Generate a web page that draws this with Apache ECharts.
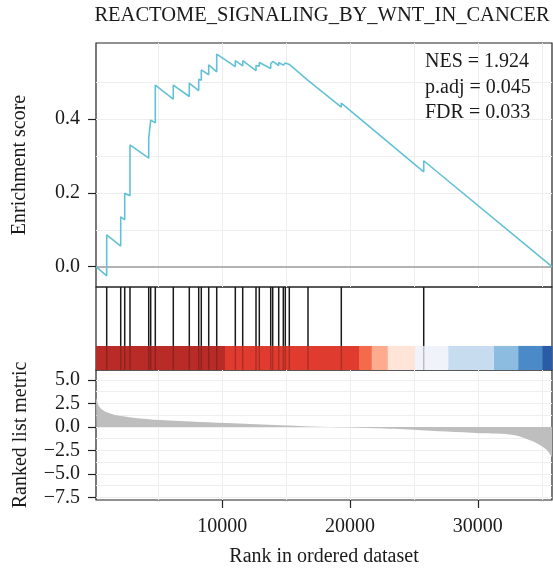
<!DOCTYPE html>
<html><head><meta charset="utf-8">
<script src="https://cdn.jsdelivr.net/npm/echarts@6/dist/echarts.min.js"></script>
<style>html,body{margin:0;padding:0;background:#fff}#c{width:553px;height:576px}</style>
</head><body><div id="c"></div>
<script>
// ---------------- data ----------------
const chartTitle = 'REACTOME_SIGNALING_BY_WNT_IN_CANCER';
const statLines = ['NES = 1.924', 'p.adj = 0.045', 'FDR = 0.033'];
const esAxisName = 'Enrichment score';
const metricAxisName = 'Ranked list metric';
const rankAxisName = 'Rank in ordered dataset';

const esTicks = [0.0, 0.2, 0.4];
const metricTicks = [-7.5, -5.0, -2.5, 0.0, 2.5, 5.0];
const rankTicks = [10000, 20000, 30000];

const esGridMajor = [0.2, 0.4];
const esGridMinor = [0.1, 0.3, 0.5];
const metricGridMajor = [-7.5, -5.0, -2.5, 0.0, 2.5, 5.0];
const metricGridMinor = [-6.25, -3.75, -1.25, 1.25, 3.75];
const rankGridMajor = [10000, 20000, 30000];
const rankGridMinor = [5000, 15000, 25000, 35000];

const hitRanks = [957, 2053, 2366, 2780, 4244, 4400, 4760, 6168, 7420, 8156, 8359, 8939, 9565,
  11020, 11599, 12640, 12898, 13790, 13946, 14416, 14776, 14932, 15245, 16708, 19314, 25762];

const esCurve = [
  [120, 0.0],
  [957, -0.025], [957, 0.086],
  [2053, 0.056], [2053, 0.135],
  [2366, 0.127], [2366, 0.199],
  [2780, 0.192], [2780, 0.330],
  [4244, 0.294], [4244, 0.348],
  [4400, 0.345], [4400, 0.397],
  [4760, 0.390], [4760, 0.492],
  [6168, 0.454], [6168, 0.492],
  [7420, 0.461], [7420, 0.497],
  [8156, 0.477], [8156, 0.508],
  [8359, 0.505], [8359, 0.533],
  [8939, 0.520], [8939, 0.547],
  [9565, 0.528], [9565, 0.576],
  [11020, 0.542], [11020, 0.558],
  [11599, 0.544], [11599, 0.558],
  [12640, 0.531], [12640, 0.545],
  [12898, 0.543], [12898, 0.553],
  [13790, 0.537], [13790, 0.550],
  [13946, 0.548], [13946, 0.556],
  [14416, 0.545], [14416, 0.553],
  [14776, 0.546], [14776, 0.551],
  [14932, 0.549], [14932, 0.552],
  [15245, 0.548], [15245, 0.551],
  [16708, 0.505], [16708, 0.510],
  [19314, 0.432], [19314, 0.443],
  [25762, 0.257], [25762, 0.287],
  [35800, 0.0]
];

const metricCurve = [
  [120, 3.10], [175, 2.94], [300, 2.33], [566, 1.87], [957, 1.55], [1740, 1.23],
  [3039, 0.98], [5128, 0.73], [8258, 0.52], [10864, 0.38], [14518, 0.17],
  [17000, 0.05], [19740, -0.05], [22000, -0.15], [24950, -0.30], [27560, -0.50],
  [30167, -0.68], [32773, -0.86], [34338, -1.57], [35385, -2.46], [35776, -3.17], [35800, -3.25]
];

const binEdges = [120, 10214, 20723, 21693, 22945, 25081, 27686, 31263, 33164, 35042, 35800];
const binPalette = ['#B92B27', '#E03B2F', '#F46B4C', '#FCAB8F', '#FEE5D8',
                    '#F1F3FA', '#C8DCEF', '#8CBDE0', '#4B8AC8', '#2A5BA6'];

// ---------------- layout / style ----------------
const FONT = 'Liberation Serif';
const FS = 20;
const TXT = '#1a1a1a';
const BORDER = '#222';
const RANK_MIN = 120, RANK_MAX = 35800;
const BAR_TOP = 0.29; // fraction of middle panel used by the colour bar

const fmt = v => {
  const s = (Math.abs(v) < 1e-9 ? 0 : v).toFixed(1);
  return s.replace('-', '\u2212');
};

function gridLines(xs, ys, color) {
  return [].concat(
    xs.map(v => ({ xAxis: v, lineStyle: { color: color, width: 1, type: 'solid' } })),
    ys.map(v => ({ yAxis: v, lineStyle: { color: color, width: 1, type: 'solid' } }))
  );
}

function gridSeries(idx, xs, ys, color) {
  return {
    type: 'line', xAxisIndex: idx, yAxisIndex: idx, data: [], silent: true, z: 0,
    markLine: { silent: true, z: 0, symbol: ['none', 'none'], label: { show: false },
      animation: false, data: gridLines(xs, ys, color) }
  };
}

const baseX = (idx) => ({
  type: 'value', gridIndex: idx, min: RANK_MIN, max: RANK_MAX, position: 'bottom',
  axisLine: { show: false, onZero: false }, axisTick: { show: false }, axisLabel: { show: false },
  splitLine: { show: false }
});

const chart = echarts.init(document.getElementById('c'), null, { renderer: 'canvas' });
chart.setOption({
  animation: false,
  backgroundColor: '#fff',
  textStyle: { fontFamily: FONT },
  grid: [
    { left: 96, right: 1, top: 43, height: 244, show: true, backgroundColor: 'transparent',
      borderColor: BORDER, borderWidth: 1.2, outerBoundsMode: 'none', z: -1 },
    { left: 96, right: 1, top: 287, height: 83, show: true, backgroundColor: 'transparent',
      borderColor: BORDER, borderWidth: 1.2, outerBoundsMode: 'none', z: -1 },
    { left: 96, right: 1, top: 370, height: 130, show: true, backgroundColor: 'transparent',
      borderColor: BORDER, borderWidth: 1.2, outerBoundsMode: 'none', z: -1 }
  ],
  xAxis: [
    baseX(0),
    baseX(1),
    Object.assign(baseX(2), {
      name: rankAxisName, nameLocation: 'middle', nameGap: 47,
      nameTextStyle: { fontFamily: FONT, fontSize: FS, color: TXT },
      axisTick: { show: true, length: 8, customValues: rankTicks, lineStyle: { color: BORDER, width: 1.2 } },
      axisLabel: { show: true, customValues: rankTicks, margin: 17, fontFamily: FONT, fontSize: FS, color: TXT,
        formatter: v => String(v) }
    })
  ],
  yAxis: [
    { type: 'value', gridIndex: 0, min: -0.055, max: 0.606, position: 'left',
      name: esAxisName, nameLocation: 'middle', nameGap: 66,
      nameTextStyle: { fontFamily: FONT, fontSize: FS, color: TXT },
      axisLine: { show: false, onZero: false }, splitLine: { show: false },
      axisTick: { show: true, length: 8, customValues: esTicks, lineStyle: { color: BORDER, width: 1.2 } },
      axisLabel: { show: true, customValues: esTicks, margin: 16, fontFamily: FONT, fontSize: FS, color: TXT, formatter: fmt } },
    { type: 'value', gridIndex: 1, min: 0, max: 1, position: 'left',
      axisLine: { show: false, onZero: false }, axisTick: { show: false }, axisLabel: { show: false }, splitLine: { show: false } },
    { type: 'value', gridIndex: 2, min: -7.79, max: 6.06, position: 'left',
      name: metricAxisName, nameLocation: 'middle', nameGap: 65,
      nameTextStyle: { fontFamily: FONT, fontSize: FS, color: TXT },
      axisLine: { show: false, onZero: false }, splitLine: { show: false },
      axisTick: { show: true, length: 8, customValues: metricTicks, lineStyle: { color: BORDER, width: 1.2 } },
      axisLabel: { show: true, customValues: metricTicks, margin: 16, fontFamily: FONT, fontSize: FS, color: TXT, formatter: fmt } }
  ],
  graphic: [
    { type: 'text', x: 322, y: 5, z: 10,
      style: { text: chartTitle, fontFamily: FONT, fontSize: 20.5, fill: TXT, align: 'center' } },
    { type: 'text', x: 425, y: 49, z: 10,
      style: { text: statLines.join('\n'), fontFamily: FONT, fontSize: FS, lineHeight: 25.5, fill: TXT } }
  ],
  series: [
    gridSeries(0, rankGridMinor.concat(rankGridMajor), esGridMinor.concat(esGridMajor), '#EEEEEE'),
    {
      type: 'line', xAxisIndex: 0, yAxisIndex: 0, data: [], silent: true, z: 1,
      markLine: { silent: true, z: 1, symbol: ['none', 'none'], label: { show: false },
        data: [{ yAxis: 0, lineStyle: { color: '#9a9a9a', width: 1.6, type: 'solid' } }] }
    },
    {
      type: 'line', xAxisIndex: 0, yAxisIndex: 0, data: esCurve, showSymbol: false, z: 3,
      lineStyle: { color: '#63C1D6', width: 1.6 }, silent: true
    },
    gridSeries(2, rankGridMinor.concat(rankGridMajor), metricGridMinor.concat(metricGridMajor), '#EEEEEE'),
    {
      type: 'line', xAxisIndex: 2, yAxisIndex: 2, data: metricCurve, showSymbol: false, z: 3,
      lineStyle: { width: 0 }, areaStyle: { color: '#BEBEBE', opacity: 1 }, silent: true, smooth: 0.3
    },
    {
      type: 'custom', xAxisIndex: 1, yAxisIndex: 1, z: 2, silent: true,
      data: binEdges.slice(0, -1).map((s, i) => [s, binEdges[i + 1], i]),
      renderItem: (params, api) => {
        const p0 = api.coord([api.value(0), BAR_TOP]);
        const p1 = api.coord([api.value(1), 0]);
        return { type: 'rect', shape: { x: p0[0], y: p0[1], width: p1[0] - p0[0] + 0.5, height: p1[1] - p0[1] },
          style: { fill: binPalette[api.value(2)] } };
      }
    },
    {
      type: 'custom', xAxisIndex: 1, yAxisIndex: 1, z: 3, silent: true,
      data: hitRanks.map(r => [r]),
      renderItem: (params, api) => {
        const a = api.coord([api.value(0), 0]);
        const b = api.coord([api.value(0), BAR_TOP]);
        const c = api.coord([api.value(0), 1]);
        return { type: 'group', children: [
          { type: 'line', shape: { x1: b[0], y1: b[1], x2: c[0], y2: c[1] },
            style: { stroke: '#1a1a1a', lineWidth: 1.5 } },
          { type: 'line', shape: { x1: a[0], y1: a[1], x2: b[0], y2: b[1] },
            style: { stroke: 'rgba(0,0,0,0.22)', lineWidth: 1.5 } }
        ] };
      }
    }
  ]
});
</script>
</body></html>
